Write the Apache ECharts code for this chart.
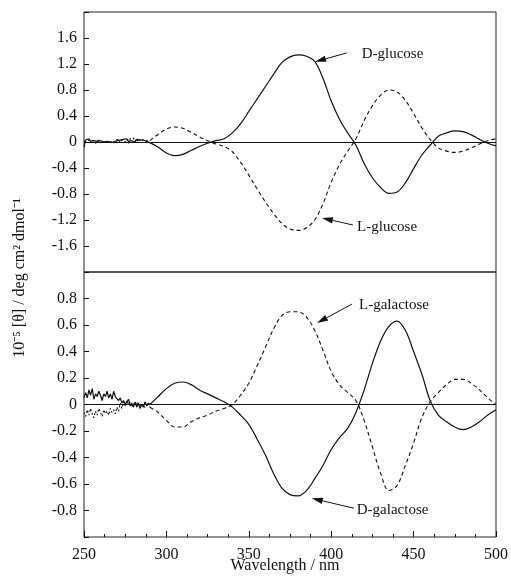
<!DOCTYPE html>
<html><head><meta charset="utf-8">
<script src="https://cdn.jsdelivr.net/npm/echarts@6/dist/echarts.min.js"></script>
<style>html,body{margin:0;padding:0;background:#fff}#c{width:511px;height:586px}</style>
</head><body><div id="c"></div>
<script>
// wavelength grids (nm)
const wlNoise = [250,251,252,253,254,255,256,257,258,259,
                 260,261,262,263,264,265,266,267,268,269,
                 270,271,272,273,274,275,276,277,278,279,
                 280,281,282,283,284,285,286,287,288,289,290];
const wlMain = [290,295,300,305,310,315,320,325,330,335,
                340,345,350,355,360,365,370,375,380,385,
                390,395,400,405,410,415,420,425,430,435,
                440,445,450,455,460,465,470,475,480,485,
                490,495,500];

// top panel: glucose
const dGlucoseNoise = [-0.08,0.03,0.02,0.05,0.01,0.04,0.02,0.05,0.01,0.03,
                        0.02,0.04,0.00,0.03,0.01,0.02,0.00,0.02,-0.01,0.01,
                        0.02,0.00,0.03,0.01,0.04,0.02,0.05,0.01,0.04,0.02,
                        0.03,0.00,0.04,0.02,0.03,0.01,0.03,0.02,0.01,0.00,-0.01];
const dGlucoseMain = [-0.01,-0.08,-0.17,-0.21,-0.19,-0.13,-0.07,-0.02,0.02,0.05,
                       0.14,0.28,0.47,0.66,0.85,1.04,1.22,1.31,1.34,1.32,
                       1.24,0.98,0.63,0.35,0.14,-0.05,-0.33,-0.55,-0.70,-0.79,
                      -0.77,-0.63,-0.41,-0.20,-0.05,0.09,0.14,0.17,0.16,0.11,
                       0.04,-0.02,-0.06];
const lGlucoseNoise = [0.01,-0.02,0.02,-0.01,0.03,0.00,0.02,-0.02,0.01,0.03,
                       -0.01,0.02,0.00,0.03,-0.01,0.01,0.02,-0.02,0.01,0.03,
                        0.00,0.04,-0.01,0.03,0.05,0.00,0.04,-0.02,0.05,0.02,
                        0.06,0.01,0.05,0.00,0.04,0.01,0.03,0.01,0.02,0.02,0.02];
const lGlucoseMain = [0.02,0.12,0.20,0.23,0.21,0.15,0.08,0.02,-0.03,-0.07,
                      -0.15,-0.31,-0.51,-0.72,-0.92,-1.10,-1.25,-1.34,-1.36,-1.32,
                      -1.20,-0.95,-0.62,-0.35,-0.14,0.05,0.33,0.56,0.72,0.80,
                       0.77,0.64,0.44,0.22,0.04,-0.09,-0.14,-0.16,-0.14,-0.09,
                      -0.03,0.02,0.05];

// bottom panel: galactose
const dGalactoseNoise = [0.05,0.09,0.05,0.11,0.07,0.12,0.04,0.08,0.06,0.10,
                         0.07,0.03,0.08,0.06,0.10,0.05,0.08,0.04,0.10,0.06,
                         0.07,0.03,0.05,0.01,0.03,0.00,0.02,0.04,-0.01,0.01,
                        -0.02,0.02,-0.02,0.01,-0.03,0.00,-0.02,0.02,-0.01,0.01,0.00];
const dGalactoseMain = [0.00,0.06,0.12,0.16,0.17,0.15,0.11,0.08,0.05,0.02,
                       -0.02,-0.08,-0.15,-0.26,-0.38,-0.52,-0.63,-0.68,-0.69,-0.65,
                       -0.56,-0.46,-0.34,-0.25,-0.18,-0.06,0.11,0.31,0.48,0.59,
                        0.63,0.56,0.40,0.23,0.03,-0.08,-0.13,-0.17,-0.19,-0.17,
                       -0.13,-0.08,-0.04];
const lGalactoseNoise = [-0.06,-0.09,-0.04,-0.08,-0.03,-0.07,-0.10,-0.05,-0.08,-0.03,
                         -0.06,-0.09,-0.04,-0.07,-0.05,-0.08,-0.03,-0.06,-0.04,-0.07,
                         -0.02,-0.05,0.01,-0.03,0.02,-0.01,0.03,0.00,0.02,-0.02,
                          0.01,-0.01,0.02,0.00,0.01,-0.01,0.00,-0.02,0.00,-0.01,-0.02];
const lGalactoseMain = [-0.02,-0.06,-0.12,-0.17,-0.17,-0.13,-0.10,-0.08,-0.05,-0.03,
                         0.00,0.07,0.16,0.29,0.43,0.57,0.67,0.70,0.70,0.66,
                         0.56,0.41,0.25,0.15,0.09,0.03,-0.12,-0.32,-0.52,-0.65,
                        -0.61,-0.46,-0.29,-0.10,0.02,0.09,0.15,0.19,0.19,0.16,
                         0.11,0.05,0.00];

// annotations: [label, labelX, labelY, arrowTailX, arrowTailY, arrowHeadX, arrowHeadY]
const topNotes = [
  ['D-glucose', 418.5, 1.36, 409.4, 1.37, 390.2, 1.235],
  ['L-glucose', 415.7, -1.31, 413.2, -1.277, 394.4, -1.169]
];
const bottomNotes = [
  ['L-galactose', 416.9, 0.75, 412.6, 0.758, 391.4, 0.615],
  ['D-galactose', 415.5, -0.796, 413.8, -0.783, 388.2, -0.708]
];

const INK = '#111';
const FONT = '"Liberation Serif","Times New Roman",serif';

function zip(xs, ys) { return xs.map((x, i) => [x, ys[i]]); }
function fmt(lim) {
  return v => {
    if (Math.abs(v) > lim) return '';
    if (Math.abs(v) < 1e-9) return '0';
    return v.toFixed(1);
  };
}
function labelMarks(notes) {
  return {
    markPoint: {
      silent: true, animation: false,
      symbol: 'circle', symbolSize: 0,
      label: { show: true, position: 'right', distance: 0, color: INK,
               fontFamily: FONT, fontSize: 15, formatter: p => p.name },
      data: notes.map(n => ({ name: n[0], coord: [n[1], n[2]] }))
    }
  };
}
const zeroLine = {
  silent: true, animation: false, symbol: 'none',
  lineStyle: { color: INK, width: 1, type: 'solid' },
  label: { show: false },
  data: [{ yAxis: 0 }]
};

function lineSeries(xi, xs, ys, dashed, smooth, extra) {
  return Object.assign({
    type: 'line', xAxisIndex: xi, yAxisIndex: xi,
    data: zip(xs, ys), showSymbol: false, symbol: 'none',
    smooth: smooth, animation: false, silent: true,
    lineStyle: { color: INK, width: dashed ? 1.1 : 1.2, type: dashed ? dashed : 'solid' }
  }, extra || {});
}

const chart = echarts.init(document.getElementById('c'), null, { renderer: 'canvas' });
const xBase = {
  type: 'value', min: 250, max: 500, interval: 50,
  axisLine: { show: false, onZero: false },
  splitLine: { show: false }
};
chart.setOption({
  backgroundColor: '#fff',
  animation: false,
  grid: [
    { left: 84, top: 12, width: 412, height: 260, show: true, borderColor: '#222', borderWidth: 1, backgroundColor: 'transparent' },
    { left: 84, top: 272, width: 412, height: 265, show: true, borderColor: '#222', borderWidth: 1, backgroundColor: 'transparent' }
  ],
  xAxis: [
    Object.assign({}, xBase, { gridIndex: 0, axisTick: { show: false }, axisLabel: { show: false } }),
    Object.assign({}, xBase, {
      gridIndex: 1,
      axisTick: { show: true, inside: true, length: 6, lineStyle: { color: INK } },
      minorTick: { show: true, splitNumber: 4, length: 3, lineStyle: { color: INK } },
      axisLabel: { show: true, color: INK, fontFamily: FONT, fontSize: 16, margin: 10 }
    })
  ],
  yAxis: [
    { type: 'value', gridIndex: 0, min: -2, max: 2, interval: 0.4,
      axisLine: { show: false, onZero: false }, splitLine: { show: false },
      axisTick: { show: true, inside: true, length: 5, lineStyle: { color: INK } },
      axisLabel: { color: INK, fontFamily: FONT, fontSize: 16, margin: 7, formatter: fmt(1.9) } },
    { type: 'value', gridIndex: 1, min: -1, max: 1, interval: 0.2,
      axisLine: { show: false, onZero: false }, splitLine: { show: false },
      axisTick: { show: true, inside: true, length: 5, lineStyle: { color: INK } },
      axisLabel: { color: INK, fontFamily: FONT, fontSize: 16, margin: 7, formatter: fmt(0.9) } }
  ],
  series: [
    lineSeries(0, wlNoise, dGlucoseNoise, null, false),
    lineSeries(0, wlMain, dGlucoseMain, null, 0.35, labelMarks(topNotes)),
    lineSeries(0, wlNoise, lGlucoseNoise, [2, 2], false),
    lineSeries(0, wlMain, lGlucoseMain, [4, 3], 0.35, { markLine: zeroLine }),
    lineSeries(1, wlNoise, dGalactoseNoise, null, false),
    lineSeries(1, wlMain, dGalactoseMain, null, 0.35, labelMarks(bottomNotes)),
    lineSeries(1, wlNoise, lGalactoseNoise, [2, 2], false),
    lineSeries(1, wlMain, lGalactoseMain, [4, 3], 0.35, { markLine: zeroLine })
  ]
});

// arrows (positions from data coordinates via the chart's own scales) and axis titles
function arrowGraphics(notes, gridIndex) {
  const out = [];
  notes.forEach(n => {
    const t = chart.convertToPixel({ gridIndex: gridIndex }, [n[3], n[4]]);
    const h = chart.convertToPixel({ gridIndex: gridIndex }, [n[5], n[6]]);
    const dx = h[0] - t[0], dy = h[1] - t[1];
    const L = Math.sqrt(dx * dx + dy * dy), ux = dx / L, uy = dy / L;
    const hl = 11, hw = 3.2;
    const bx = h[0] - ux * hl, by = h[1] - uy * hl;
    out.push({ type: 'line', silent: true,
      shape: { x1: t[0], y1: t[1], x2: bx, y2: by },
      style: { stroke: INK, lineWidth: 1 } });
    out.push({ type: 'polygon', silent: true,
      shape: { points: [[h[0], h[1]], [bx - uy * hw, by + ux * hw], [bx + uy * hw, by - ux * hw]] },
      style: { fill: INK } });
  });
  return out;
}
chart.setOption({
  graphic: [
    { type: 'text', x: 20, y: 278, rotation: Math.PI / 2, silent: true,
      style: { text: '10\u207B\u2075 [\u03B8] / deg cm\u00B2 dmol\u207B\u00B9', fill: INK,
               font: '16px ' + FONT, textAlign: 'center', textVerticalAlign: 'middle' } },
    { type: 'text', x: 285, y: 566, silent: true,
      style: { text: 'Wavelength / nm', fill: INK, font: '16px ' + FONT,
               textAlign: 'center', textVerticalAlign: 'middle' } }
  ].concat(arrowGraphics(topNotes, 0), arrowGraphics(bottomNotes, 1))
});
</script></body></html>
